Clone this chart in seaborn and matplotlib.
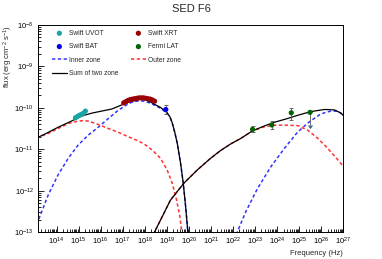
import numpy as np
import pandas as pd
import matplotlib
matplotlib.use("Agg")
import matplotlib.pyplot as plt
import seaborn as sns
from matplotlib.ticker import LogLocator, NullFormatter

# values: log10 frequency [Hz], log10 flux [erg cm^-2 s^-1]
uvot_lognu = [14.86, 14.95, 15.04, 15.13, 15.22, 15.31]
uvot_logflux = [-10.24, -10.21, -10.18, -10.16, -10.13, -10.08]

xrt_lognu = [17.05, 17.15, 17.25, 17.35, 17.45, 17.55, 17.65, 17.75,
             17.85, 17.95, 18.05, 18.15, 18.25, 18.35, 18.45]
xrt_logflux = [-9.88, -9.85, -9.82, -9.80, -9.79, -9.78, -9.77, -9.76,
               -9.76, -9.76, -9.77, -9.78, -9.79, -9.81, -9.84]

bat_nu = [9.1e18]
bat_flux = [9.1e-11]
bat_err_lo = [1.9e-11]
bat_err_hi = [2.4e-11]

fermi_nu = [7.9e22, 5.9e23, 4.5e24, 3.2e25]
fermi_flux = [3.02e-11, 3.85e-11, 7.59e-11, 7.76e-11]
fermi_err_lo = [0.45e-11, 0.72e-11, 2.6e-11, 3.9e-11]
fermi_err_hi = [0.53e-11, 0.89e-11, 2.4e-11, 0.0]
fermi_uplim = [False, False, False, True]

# model curves
inner_sync_lognu = [13.10, 13.62, 14.07, 14.53, 14.98, 15.44, 15.89, 16.35, 16.80,
                    17.26, 17.50, 17.81, 18.05, 18.26, 18.50, 18.72, 18.90, 19.02,
                    19.15, 19.25, 19.37, 19.48, 19.63, 19.75, 19.86, 19.96, 20.00]
inner_sync_logflux = [-12.82, -12.11, -11.62, -11.22, -10.90, -10.66, -10.47, -10.26, -10.06,
                      -9.90, -9.85, -9.83, -9.85, -9.89, -9.95, -10.01, -10.08, -10.13,
                      -10.23, -10.37, -10.60, -10.86, -11.34, -11.82, -12.39, -13.00, -13.20]
inner_ic_lognu = [22.12, 22.21, 22.59, 23.12, 23.73, 24.34, 24.95, 25.47, 25.93,
                  26.20, 26.46, 26.70, 26.84, 27.00, 27.11]
inner_ic_logflux = [-13.20, -12.99, -12.51, -11.95, -11.42, -10.98, -10.58, -10.34, -10.17,
                    -10.11, -10.08, -10.08, -10.11, -10.17, -10.24]

outer_sync_lognu = [13.10, 13.62, 14.07, 14.53, 14.98, 15.20, 15.44, 15.89, 16.35, 16.80,
                    17.26, 17.72, 18.05, 18.34, 18.72, 19.02, 19.25, 19.45, 19.60,
                    19.67, 19.72]
outer_sync_logflux = [-10.73, -10.62, -10.50, -10.38, -10.32, -10.31, -10.32, -10.40, -10.50,
                      -10.59, -10.70, -10.80, -10.90, -11.02, -11.22, -11.50, -11.82, -12.23,
                      -12.63, -12.95, -13.20]
outer_ic_lognu = [18.30, 18.40, 18.72, 19.17, 19.78, 20.39, 20.99, 21.45, 21.91, 22.36,
                  22.88, 23.42, 23.88, 24.41, 24.95, 25.40, 25.86, 26.31, 26.77, 27.10]
outer_ic_logflux = [-13.20, -13.05, -12.71, -12.23, -11.82, -11.50, -11.22, -11.03, -10.87,
                    -10.74, -10.56, -10.46, -10.42, -10.42, -10.43, -10.54, -10.74, -10.98,
                    -11.26, -11.47]

sum_sync_lognu = [13.10, 13.60, 14.07, 14.68, 15.13, 15.59, 16.04, 16.50, 16.96, 17.34,
                  17.81, 18.05, 18.26, 18.50, 18.72, 18.90, 19.02, 19.15, 19.25, 19.37,
                  19.48, 19.63, 19.75, 19.86, 19.96, 20.00]
sum_sync_logflux = [-10.73, -10.60, -10.47, -10.32, -10.20, -10.13, -10.08, -10.03, -9.93, -9.85,
                    -9.79, -9.81, -9.86, -9.93, -9.99, -10.07, -10.12, -10.22, -10.36, -10.60,
                    -10.86, -11.34, -11.82, -12.39, -13.00, -13.20]
sum_ic_lognu = [18.30, 18.40, 18.72, 19.17, 19.78, 20.39, 20.99, 21.45, 21.91, 22.36,
                22.88, 23.42, 23.88, 24.41, 24.95, 25.55, 26.16, 26.61, 26.92, 27.11]
sum_ic_logflux = [-13.20, -13.05, -12.71, -12.23, -11.82, -11.50, -11.22, -11.03, -10.87,
                  -10.74, -10.56, -10.44, -10.35, -10.27, -10.18, -10.09, -10.04, -10.05,
                  -10.13, -10.25]

sns.set_style("ticks")
plt.rcParams["font.family"] = ["Liberation Sans", "DejaVu Sans"]
plt.rcParams["mathtext.fontset"] = "custom"
plt.rcParams["mathtext.rm"] = "Liberation Sans"
plt.rcParams["mathtext.it"] = "Liberation Sans:italic"

fig = plt.figure(figsize=(3.82, 2.59), dpi=100)
ax = fig.add_axes([0.0995, 0.1042, 0.7984, 0.7992])
ax.set_xscale("log")
ax.set_yscale("log")

c_inner = "#3333ff"
c_outer = "#ff3333"
dash = (2.2, 1.6)


def curve(lognu, logflux, color, label=None, dashed=True, lw=1.1):
    df = pd.DataFrame({"nu": 10 ** np.array(lognu), "flux": 10 ** np.array(logflux)})
    sns.lineplot(data=df, x="nu", y="flux", ax=ax, color=color, lw=lw,
                 estimator=None, sort=False, label=label)
    line = ax.lines[-1]
    if dashed:
        line.set_dashes(dash)
    return line


curve(inner_sync_lognu, inner_sync_logflux, c_inner, "Inner zone")
curve(inner_ic_lognu, inner_ic_logflux, c_inner)
curve(outer_sync_lognu, outer_sync_logflux, c_outer, "Outer zone")
curve(outer_ic_lognu, outer_ic_logflux, c_outer)
curve(sum_sync_lognu, sum_sync_logflux, "black", "Sum of two zone", dashed=False, lw=0.9)
curve(sum_ic_lognu, sum_ic_logflux, "black", dashed=False, lw=0.9)

# error bars
ebar = dict(fmt="none", ecolor="#555555", elinewidth=0.6, capsize=1.2, capthick=0.6, zorder=3)
ax.errorbar(bat_nu, bat_flux, yerr=[bat_err_lo, bat_err_hi], **ebar)
ax.errorbar(fermi_nu, fermi_flux, yerr=[fermi_err_lo, fermi_err_hi],
            uplims=fermi_uplim, **ebar)

ms = 14
sns.scatterplot(x=10 ** np.array(uvot_lognu), y=10 ** np.array(uvot_logflux), ax=ax,
                color="#1aa3a3", s=ms, edgecolor="none", label="Swift UVOT", zorder=4)
sns.scatterplot(x=10 ** np.array(xrt_lognu), y=10 ** np.array(xrt_logflux), ax=ax,
                color="#990000", s=ms, edgecolor="none", label="Swift XRT", zorder=4)
sns.scatterplot(x=bat_nu, y=bat_flux, ax=ax, color="#0000ee", s=ms,
                edgecolor="none", label="Swift BAT", zorder=4)
sns.scatterplot(x=fermi_nu, y=fermi_flux, ax=ax, color="#006400", s=ms,
                edgecolor="none", label="Fermi LAT", zorder=4)

ax.set_xlim(10 ** 13.16, 1e27)
ax.set_ylim(1e-13, 1e-8)
ax.set_xticks([10.0 ** k for k in range(14, 28)])
ax.set_yticks([10.0 ** k for k in range(-13, -7)])
ax.xaxis.set_minor_locator(LogLocator(base=10, subs=np.arange(2, 10), numticks=200))
ax.yaxis.set_minor_locator(LogLocator(base=10, subs=np.arange(2, 10), numticks=200))
ax.xaxis.set_minor_formatter(NullFormatter())
ax.yaxis.set_minor_formatter(NullFormatter())
ax.tick_params(which="both", direction="in", top=False, right=False,
               labelsize=5.5, width=0.6, colors="black")
ax.tick_params(which="major", length=4, pad=3)
ax.tick_params(which="minor", length=2)
for sp in ax.spines.values():
    sp.set_linewidth(0.7)
    sp.set_color("black")

ax.set_xlabel("Frequency (Hz)", fontsize=5.5, loc="right", labelpad=2)
ax.set_ylabel("flux (erg cm$^{-2}$ s$^{-1}$)", fontsize=5.5, loc="top")
ax.yaxis.set_label_coords(-0.075, 1.0)
fig.text(0.5, 1 - 9 / 259, "SED F6", ha="center", va="center", fontsize=8)

handles, labels = ax.get_legend_handles_labels()
lookup = dict(zip(labels, handles))
order = ["Swift UVOT", "Swift BAT", "Inner zone", "Sum of two zone",
         "Swift XRT", "Fermi LAT", "Outer zone"]
ax.legend([lookup[k] for k in order], order, ncol=2, frameon=False,
          loc="upper left", bbox_to_anchor=(52 / 382, 1 - 30 / 259),
          bbox_transform=fig.transFigure, fontsize=4.8, borderpad=0,
          borderaxespad=0, handlelength=2.2, handletextpad=0.4,
          columnspacing=1.85, labelspacing=0.95)

fig.savefig("out.png", dpi=100)
